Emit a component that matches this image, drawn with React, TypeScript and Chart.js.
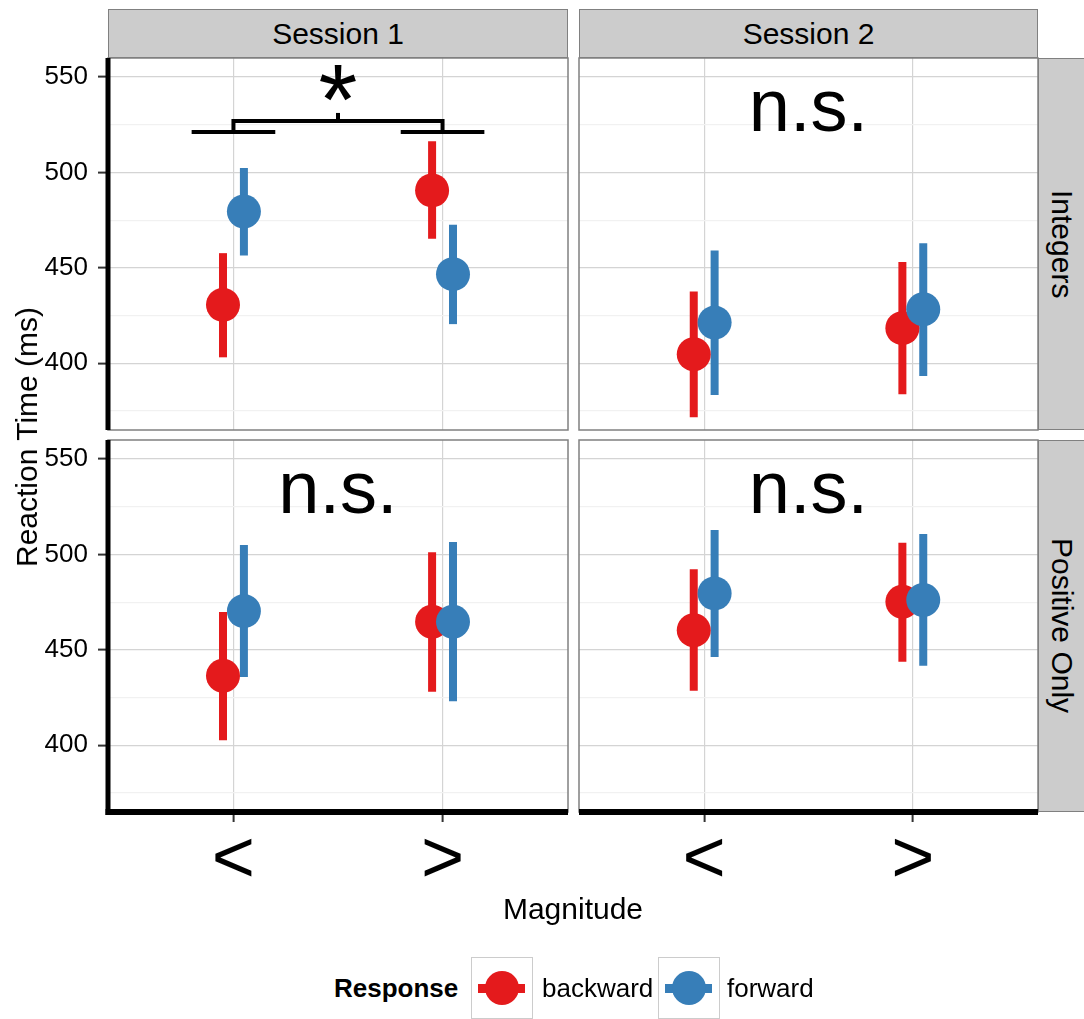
import React, { useEffect, useRef } from 'react';
import { Chart, registerables } from 'chart.js';

Chart.register(...registerables);

const FONT = '"Liberation Sans", Arial, Helvetica, sans-serif';
Chart.defaults.font.family = FONT;

// ---------- data ----------
const sessions = ['Session 1', 'Session 2'];
const conditions = ['Integers', 'Positive Only'];
const magnitudes = ['<', '>'];
const responses = ['backward', 'forward'];

// panel order: [Session 1 / Integers, Session 2 / Integers, Session 1 / Positive Only, Session 2 / Positive Only]
// each entry: [value at "<", value at ">"]
const backwardMean = [[430.6, 490.6], [404.7, 418.4], [436.4, 464.7], [460.3, 475.2]];
const backwardLow = [[403.1, 465.2], [371.7, 383.7], [402.6, 428.0], [428.5, 443.7]];
const backwardHigh = [[457.7, 516.3], [437.6, 453.0], [469.9, 501.1], [492.2, 506.1]];
const forwardMean = [[479.5, 446.7], [421.3, 428.3], [470.3, 464.7], [479.6, 476.1]];
const forwardLow = [[456.5, 420.5], [383.4, 393.3], [435.8, 423.0], [446.3, 441.6]];
const forwardHigh = [[502.3, 472.6], [459.1, 462.9], [504.9, 506.5], [512.8, 510.7]];

const yMajorTicks = [400, 450, 500, 550];
const yMinorTicks = [375, 425, 475, 525];
const yRange = [365, 560];
const xRange = [0.4, 2.6];
const dodge = 0.05;

const panelLabels = ['*', 'n.s.', 'n.s.', 'n.s.'];
const panelLabelX = 1.5;
const panelLabelY = [520, 521.6, 521.6, 521.6];

// significance bracket (Session 1 / Integers)
const bracketLowY = 521.2;
const bracketHighY = 527;
const bracketTipY = 531.2;
const bracketHalfWidth = 0.2;

// ---------- styles ----------
const seriesColors = ['#E41A1C', '#377EB8'];
const panelLabelFont = [100, 74, 74, 74];
const gridMajor = '#d4d4d4';
const gridMinor = '#f1f1f1';
const frameColor = '#808080';
const stripFill = '#cccccc';

const colX = [108, 579];
const colW = [460, 459];
const rowY = [58, 440];
const rowH = 372;
const stripTop = 9;
const stripH = 49;
const stripRightW = 48;

function Panel({ idx }: { idx: number }) {
  const ref = useRef<HTMLCanvasElement | null>(null);
  const col = idx % 2;
  const row = Math.floor(idx / 2);
  const showY = col === 0;
  const showX = row === 1;
  const PAD = 6;
  const Y_AXIS_W = colX[0];
  const X_AXIS_H = 95;
  const left = colX[col] - (showY ? Y_AXIS_W : PAD);
  const top = rowY[row] - PAD;
  const width = colW[col] + (showY ? Y_AXIS_W : PAD) + PAD;
  const height = rowH + PAD + (showX ? X_AXIS_H : PAD);

  useEffect(() => {
    if (!ref.current) return;
    const means = [backwardMean[idx], forwardMean[idx]];
    const lows = [backwardLow[idx], forwardLow[idx]];
    const highs = [backwardHigh[idx], forwardHigh[idx]];
    const offsets = [-dodge, dodge];

    const datasets: any[] = [];
    let order = 100;
    responses.forEach((r, s) => {
      magnitudes.forEach((m, j) => {
        const x = j + 1 + offsets[s];
        datasets.push({
          label: r + ' range ' + m,
          data: [{ x, y: lows[s][j] }, { x, y: highs[s][j] }],
          showLine: true,
          borderColor: seriesColors[s],
          backgroundColor: seriesColors[s],
          borderWidth: 8,
          borderCapStyle: 'butt',
          pointRadius: 0,
          clip: false,
          order: order--,
        });
      });
    });
    responses.forEach((r, s) => {
      datasets.push({
        label: r,
        data: magnitudes.map((m, j) => ({ x: j + 1 + offsets[s], y: means[s][j] })),
        showLine: false,
        backgroundColor: seriesColors[s],
        borderColor: seriesColors[s],
        borderWidth: 0,
        pointRadius: 17,
        pointBorderWidth: 0,
        clip: false,
        order: order--,
      });
    });

    if (idx === 0) {
      const segs = [
        [[1 - bracketHalfWidth, bracketLowY], [1 + bracketHalfWidth, bracketLowY]],
        [[2 - bracketHalfWidth, bracketLowY], [2 + bracketHalfWidth, bracketLowY]],
        [[1, bracketLowY], [1, bracketHighY], [2, bracketHighY], [2, bracketLowY]],
        [[panelLabelX, bracketHighY], [panelLabelX, bracketTipY]],
      ];
      segs.forEach((seg, k) => {
        datasets.push({
          label: 'bracket ' + k,
          data: seg.map(([x, y]) => ({ x, y })),
          showLine: true,
          borderColor: '#000',
          borderWidth: 4,
          borderCapStyle: 'butt',
          borderJoinStyle: 'miter',
          pointRadius: 0,
          clip: false,
          order: 0,
        });
      });
    }

    const decor = {
      id: 'panelDecor',
      afterDatasetsDraw(chart: any) {
        const ctx = chart.ctx;
        const xs = chart.scales.x;
        const ys = chart.scales.y;
        const { left: l, top: t, right: r, bottom: b } = chart.chartArea;
        ctx.save();
        ctx.fillStyle = '#000';
        ctx.textAlign = 'center';
        ctx.textBaseline = 'alphabetic';
        ctx.font = `${panelLabelFont[idx]}px ${FONT}`;
        ctx.fillText(panelLabels[idx], xs.getPixelForValue(panelLabelX), ys.getPixelForValue(panelLabelY[idx]));
        ctx.strokeStyle = frameColor;
        ctx.lineWidth = 1.5;
        ctx.strokeRect(l, t, r - l, b - t);
        ctx.strokeStyle = '#000';
        ctx.lineCap = 'butt';
        if (showY) {
          ctx.lineWidth = 5;
          ctx.beginPath();
          ctx.moveTo(l, t);
          ctx.lineTo(l, b + (showX ? 3 : 0));
          ctx.stroke();
        }
        if (showX) {
          ctx.lineWidth = 6;
          ctx.beginPath();
          ctx.moveTo(l - (showY ? 2.5 : 0), b);
          ctx.lineTo(r, b);
          ctx.stroke();
        }
        ctx.restore();
      },
    };

    const isMajor = (v: any) => yMajorTicks.includes(v);

    const chart = new Chart(ref.current, {
      type: 'scatter',
      data: { datasets },
      plugins: [decor],
      options: {
        responsive: false,
        animation: false,
        devicePixelRatio: 1,
        events: [],
        layout: {
          autoPadding: false,
          padding: { left: showY ? 0 : PAD, right: PAD, top: PAD, bottom: showX ? 0 : PAD },
        },
        plugins: { legend: { display: false }, tooltip: { enabled: false } },
        scales: {
          x: {
            type: 'linear',
            position: 'bottom',
            min: xRange[0],
            max: xRange[1],
            afterBuildTicks: (s: any) => {
              s.ticks = magnitudes.map((m, j) => ({ value: j + 1 }));
            },
            afterFit: (s: any) => {
              s.height = showX ? X_AXIS_H : 0;
              s.paddingLeft = 0;
              s.paddingRight = 0;
              s.paddingTop = 0;
              s.paddingBottom = 0;
            },
            ticks: {
              display: showX,
              autoSkip: false,
              maxRotation: 0,
              minRotation: 0,
              padding: 3,
              color: '#000',
              font: { size: 74, lineHeight: 1 },
              callback: (v: any) => magnitudes[Math.round(v) - 1] ?? '',
            },
            grid: {
              color: gridMajor,
              lineWidth: 1.2,
              drawTicks: showX,
              tickLength: 10,
              tickColor: '#333',
              tickWidth: 2,
            },
            border: { display: false },
          },
          y: {
            type: 'linear',
            position: 'left',
            min: yRange[0],
            max: yRange[1],
            afterBuildTicks: (s: any) => {
              s.ticks = [...yMinorTicks, ...yMajorTicks].sort((a, b) => a - b).map((v) => ({ value: v }));
            },
            afterFit: (s: any) => {
              s.width = showY ? Y_AXIS_W : 0;
              s.paddingLeft = 0;
              s.paddingRight = 0;
              s.paddingTop = 0;
              s.paddingBottom = 0;
            },
            ticks: {
              display: showY,
              autoSkip: false,
              padding: 10,
              color: '#000',
              font: { size: 26 },
              callback: (v: any) => (isMajor(v) ? String(v) : ''),
            },
            grid: {
              color: (c: any) => (isMajor(c.tick?.value) ? gridMajor : gridMinor),
              lineWidth: 1.2,
              drawTicks: showY,
              tickLength: 10,
              tickColor: (c: any) => (isMajor(c.tick?.value) ? '#333' : 'rgba(0,0,0,0)'),
              tickWidth: 2,
            },
            border: { display: false },
          },
        },
      } as any,
    });
    return () => chart.destroy();
  }, []);

  return (
    <canvas
      ref={ref}
      width={width}
      height={height}
      style={{ position: 'absolute', left, top, width, height }}
    />
  );
}

export default function App() {
  const txt: React.CSSProperties = { position: 'absolute', whiteSpace: 'nowrap', color: '#000', lineHeight: 1 };
  return (
    <div
      style={{
        position: 'absolute',
        left: 0,
        top: 0,
        width: 1084,
        height: 1019,
        overflow: 'hidden',
        background: '#fff',
        fontFamily: FONT,
      }}
    >
      {sessions.map((s, c) => (
        <div
          key={s}
          style={{
            position: 'absolute',
            left: colX[c],
            top: stripTop,
            width: colW[c],
            height: stripH,
            boxSizing: 'border-box',
            background: stripFill,
            border: `1.5px solid ${frameColor}`,
            display: 'flex',
            alignItems: 'center',
            justifyContent: 'center',
            fontSize: 30,
          }}
        >
          {s}
        </div>
      ))}
      {conditions.map((c, r) => (
        <div
          key={c}
          style={{
            position: 'absolute',
            left: colX[1] + colW[1],
            top: rowY[r],
            width: stripRightW,
            height: rowH,
            boxSizing: 'border-box',
            background: stripFill,
            border: `1.5px solid ${frameColor}`,
            display: 'flex',
            alignItems: 'center',
            justifyContent: 'center',
            fontSize: 30,
          }}
        >
          <span style={{ writingMode: 'vertical-rl', whiteSpace: 'nowrap' }}>{c}</span>
        </div>
      ))}

      {[0, 1, 2, 3].map((i) => (
        <Panel key={i} idx={i} />
      ))}

      <div
        style={{
          ...txt,
          left: 27,
          top: 437,
          fontSize: 30,
          transform: 'translate(-50%, -50%) rotate(-90deg)',
        }}
      >
        Reaction Time (ms)
      </div>
      <div style={{ ...txt, left: 573, top: 909, fontSize: 30, transform: 'translate(-50%, -50%)' }}>
        Magnitude
      </div>

      <div style={{ ...txt, left: 334, top: 988, fontSize: 26, fontWeight: 'bold', transform: 'translateY(-50%)' }}>
        Response
      </div>
      {responses.map((r, s) => {
        const boxLeft = [471, 658][s];
        const textLeft = [542, 727][s];
        return (
          <React.Fragment key={r}>
            <div
              style={{
                position: 'absolute',
                left: boxLeft,
                top: 957,
                width: 62,
                height: 62,
                boxSizing: 'border-box',
                border: '1.5px solid #cccccc',
                background: '#fff',
              }}
            >
              <div
                style={{
                  position: 'absolute',
                  left: 6,
                  top: 25.5,
                  width: 47,
                  height: 9,
                  background: seriesColors[s],
                }}
              />
              <div
                style={{
                  position: 'absolute',
                  left: 12.5,
                  top: 13,
                  width: 34,
                  height: 34,
                  borderRadius: '50%',
                  background: seriesColors[s],
                }}
              />
            </div>
            <div style={{ ...txt, left: textLeft, top: 988, fontSize: 26, transform: 'translateY(-50%)' }}>{r}</div>
          </React.Fragment>
        );
      })}
    </div>
  );
}
